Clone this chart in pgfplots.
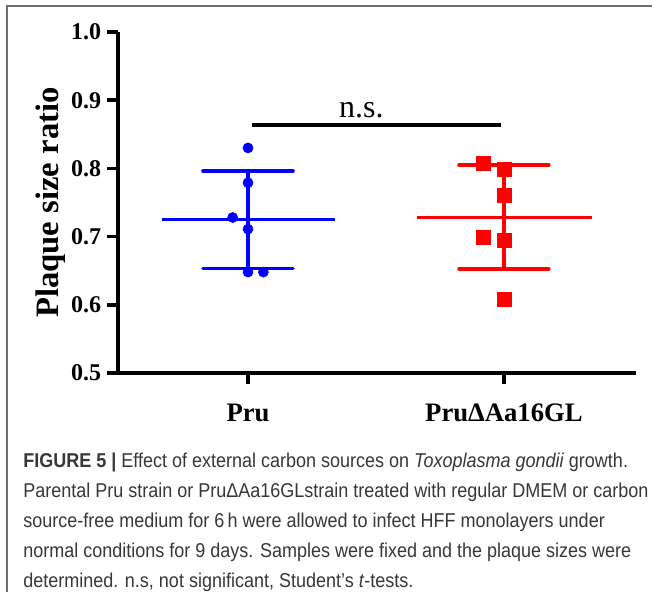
\documentclass[border=0pt]{standalone}
\usepackage{fontspec}
\setmainfont{Liberation Serif}
\newfontfamily\capfont[FakeStretch=0.9]{Liberation Sans}
\usepackage{pgfplots}
\pgfplotsset{compat=1.18}
\definecolor{gpBlue}{RGB}{0,0,255}
\definecolor{gpRed}{RGB}{255,0,0}
\definecolor{capText}{RGB}{55,55,55}
\definecolor{frameGray}{RGB}{110,110,110}

\begin{document}
\begin{tikzpicture}
% page = 652x592 px, 1 px = 0.75pt
\useasboundingbox (0,0) rectangle (489pt,444pt);
\draw[frameGray, line width=1.1pt] (5.25pt,0pt) -- (5.25pt,439.5pt) -- (489pt,439.5pt);

\begin{axis}[
    at={(88.5pt,164.25pt)}, anchor=south west,
    scale only axis,
    width=388.5pt, height=255.75pt,
    xmin=0.492, xmax=2.516,
    ymin=0.5, ymax=1.0,
    clip=false,
    axis x line=bottom, axis y line=left,
    axis line style={-, line width=3.6pt},
    xtick={1,2},
    xticklabels={Pru, PruΔAa16GL},
    ytick={0.5,0.6,0.7,0.8,0.9,1.0},
    tick align=outside,
    major tick length=8pt,
    tick style={black, line width=2.6pt},
    xticklabel style={font=\fontsize{20}{20}\selectfont\bfseries,
        anchor=north, inner sep=0pt, yshift=-15pt},
    yticklabel style={font=\fontsize{18}{18}\selectfont\bfseries,
        anchor=east, inner sep=0pt, xshift=-4.5pt,
        /pgf/number format/.cd, fixed, fixed zerofill, precision=1,
        assume math mode=true},
    ylabel={Plaque size ratio},
    ylabel style={font=\fontsize{24.5}{24.5}\selectfont\bfseries,
        at={(axis description cs:-0.13,0.5)}, anchor=center},
]
% Pru: mean and SD
\addplot[gpBlue, line width=2.1pt, forget plot] coordinates {(0.662,0.7255)(1.338,0.7255)};
\addplot[gpBlue, line width=3pt, forget plot] coordinates {(1,0.6535)(1,0.796)};
\addplot[gpBlue, line width=2.6pt, line cap=round, forget plot] coordinates {(0.824,0.796)(1.176,0.796)};
\addplot[gpBlue, line width=2.6pt, line cap=round, forget plot] coordinates {(0.824,0.6535)(1.176,0.6535)};
\addplot[only marks, mark=*, mark size=3.8pt, gpBlue] coordinates {
    (1,0.830)(1,0.779)(0.94,0.728)(1,0.711)(1,0.648)(1.06,0.648)};

% PruDeltaAa16GL: mean and SD
\addplot[gpRed, line width=2.1pt, forget plot] coordinates {(1.66,0.7283)(2.345,0.7283)};
\addplot[gpRed, line width=3.4pt, forget plot] coordinates {(2,0.653)(2,0.805)};
\addplot[gpRed, line width=2.8pt, line cap=round, forget plot] coordinates {(1.825,0.805)(2.175,0.805)};
\addplot[gpRed, line width=2.8pt, line cap=round, forget plot] coordinates {(1.825,0.653)(2.175,0.653)};
\addplot[only marks, mark=square*, mark size=5.2pt, gpRed] coordinates {
    (1.92,0.808)(2,0.799)(2,0.760)(1.92,0.699)(2,0.695)(2,0.608)};

% significance bar
\addplot[black, line width=3pt, forget plot] coordinates {(1.016,0.863)(1.988,0.863)};
\node[font=\fontsize{24}{24}\selectfont, anchor=base] at (axis cs:1.443,0.874) {n.s.};
\end{axis}

\begin{scope}[capText, font=\capfont\fontsize{15}{17}\selectfont]
\node[anchor=base west, inner sep=0pt] at (17.25pt,93.5pt)
    {\textbf{FIGURE 5 |} Effect of external carbon sources on \textit{Toxoplasma gondii} growth.};
\node[anchor=base west, inner sep=0pt] at (17.25pt,71pt)
    {Parental Pru strain or PruΔAa16GLstrain treated with regular DMEM or carbon};
\node[anchor=base west, inner sep=0pt] at (17.25pt,48.5pt)
    {source-free medium for 6\,h were allowed to infect HFF monolayers under};
\node[anchor=base west, inner sep=0pt] at (17.25pt,26pt)
    {normal conditions for 9 days. Samples were fixed and the plaque sizes were};
\node[anchor=base west, inner sep=0pt] at (17.25pt,3.5pt)
    {determined. n.s, not significant, Student’s \textit{t}-tests.};
\end{scope}
\end{tikzpicture}
\end{document}
